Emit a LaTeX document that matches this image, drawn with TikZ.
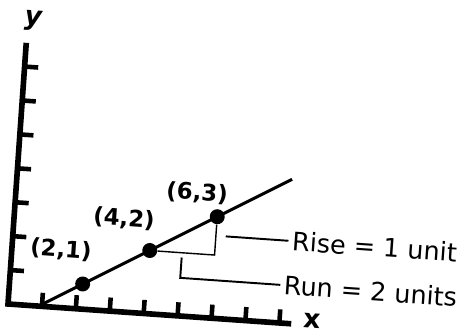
\documentclass[tikz,border=0pt]{standalone}
\usepackage{fontspec}
\setmainfont{DejaVu Sans}
\usetikzlibrary{calc}

\begin{document}
\begin{tikzpicture}[
  font=\fontsize{14.5}{16}\selectfont,
  axisline/.style={line width=3.2pt,line join=miter},
  axistick/.style={line width=2.6pt},
  dataline/.style={line width=1.7pt},
  dot/.style={circle,fill=black,inner sep=0pt,minimum size=0.30cm},
  ptlabel/.style={font=\bfseries\fontsize{13}{15}\selectfont,inner sep=0pt},
  axlabel/.style={font=\bfseries\fontsize{15}{17}\selectfont,inner sep=0pt},
  leg/.style={line width=0.8pt},
  leader/.style={line width=1.1pt},
  note/.style={anchor=west,inner sep=2pt}
]
  \useasboundingbox (0,0) rectangle (9.4,6.68);
  \begin{scope}[shift={(0.16,0.60)},rotate=-4,x=0.68cm,y=0.68cm,transform shape]
    % axes and ticks
    \coordinate (o) at (0,0);
    \coordinate (ytop) at (0,7.7);
    \coordinate (xend) at (8.35,0);
    \draw[axisline] (ytop) -- (o) -- (xend);
    \foreach \k in {1,...,7}
      \draw[axistick] (0,\k) -- (0.4,\k);
    \foreach \k in {1,...,8}
      \draw[axistick] (\k,0) -- (\k,0.4);
    \node[axlabel] (ylab) at (0.15,8.35) {\itshape y};
    \node[axlabel] (xlab) at (8.95,0.12) {x};

    % the line and its points
    \coordinate (lstart) at (1,0.06);
    \coordinate (lend) at (8.08,4.24);
    \draw[dataline] (lstart) -- (lend);
    \node[dot] (p21) at (2.15,0.74) {};
    \node[dot] (p42) at (4.05,1.86) {};
    \node[dot] (p63) at (5.96,2.99) {};
    \node[ptlabel] (l21) at (1.44,1.69) {(2,1)};
    \node[ptlabel] (l42) at (3.23,2.73) {(4,2)};
    \node[ptlabel] (l63) at (5.32,3.64) {(6,3)};

    % rise and run
    \coordinate (corner) at (5.96,1.86);
    \draw[leg] (p42) -- (corner) -- (p63);
    \coordinate (risemid) at (6.25,2.43);
    \node[note] (rise) at (8.1,2.43) {Rise = 1 unit};
    \draw[leader] (risemid) -- (rise.west);
    \coordinate (runmid) at (5.0,1.72);
    \coordinate (runbend) at (5.0,1.12);
    \node[note] (run) at (7.95,1.12) {Run = 2 units};
    \draw[leader] (runmid) -- (runbend) -- (run.west);
  \end{scope}
\end{tikzpicture}
\end{document}
